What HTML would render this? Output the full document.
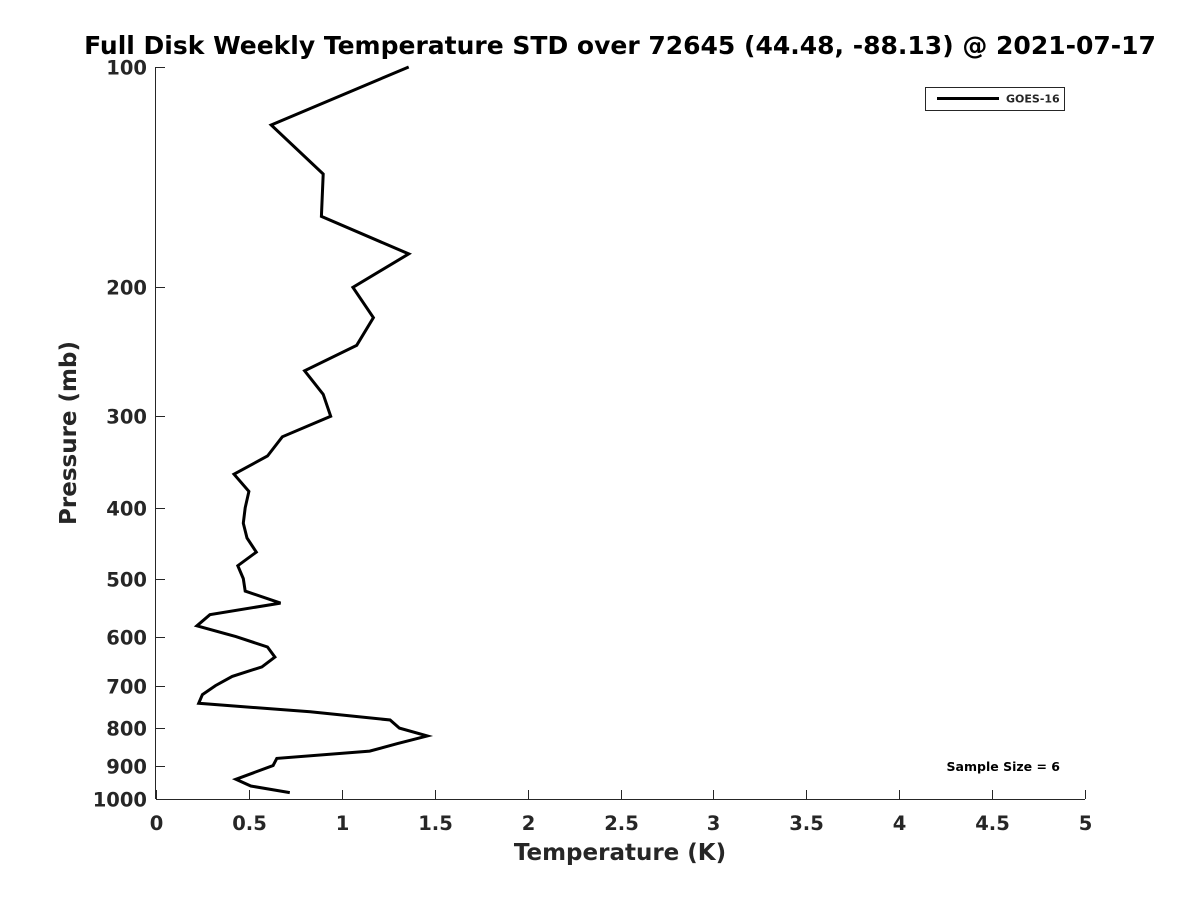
<!DOCTYPE html>
<html><head><meta charset="utf-8"><style>
body{margin:0;background:#fff}
svg text{font-family:"DejaVu Sans","Liberation Sans",sans-serif;font-weight:bold;fill:#262626}
</style></head><body>
<svg id="chart" width="1200" height="900" xmlns="http://www.w3.org/2000/svg">
<rect width="1200" height="900" fill="#fff"/>
<text x="620" y="54" font-size="25" text-anchor="middle" fill="#000" style="fill:#000">Full Disk Weekly Temperature STD over 72645 (44.48, -88.13) @ 2021-07-17</text>
<g id="axes"></g>
<path id="series" fill="none" stroke="#000" stroke-width="3" stroke-linejoin="miter"/>
<g>
<rect x="925.5" y="87.5" width="139" height="23" fill="#fff" stroke="#262626" stroke-width="1"/>
<line x1="937" y1="98.5" x2="999" y2="98.5" stroke="#000" stroke-width="3"/>
<text x="1006" y="102.5" font-size="11">GOES-16</text>
</g>
<text x="1060" y="771" font-size="12.5" text-anchor="end" style="fill:#000">Sample Size = 6</text>
<text x="620" y="860" font-size="23" text-anchor="middle">Temperature (K)</text>
<text x="0" y="0" font-size="23" text-anchor="middle" transform="translate(76,433) rotate(-90)">Pressure (mb)</text>
</svg>
<script>
const pressures=[100,120,140,160,180,200,220,240,260,280,300,320,340,360,380,400,420,440,460,480,500,520,540,560,580,600,620,640,660,680,700,720,740,760,780,800,820,840,860,880,900,940,960,980];
const tempStd=[1.36,0.62,0.90,0.89,1.36,1.06,1.17,1.08,0.80,0.90,0.94,0.68,0.60,0.42,0.50,0.48,0.47,0.49,0.54,0.44,0.47,0.48,0.67,0.29,0.22,0.43,0.60,0.64,0.57,0.41,0.32,0.25,0.23,0.83,1.26,1.31,1.46,1.30,1.15,0.65,0.63,0.43,0.51,0.72];
const xTicks=[0,0.5,1,1.5,2,2.5,3,3.5,4,4.5,5];
const xTickLabels=["0","0.5","1","1.5","2","2.5","3","3.5","4","4.5","5"];
const yTicks=[100,200,300,400,500,600,700,800,900,1000];
const yTickLabels=["100","200","300","400","500","600","700","800","900","1000"];
const X0=156,X1=1085,Y0=67,Y1=799;
const xs=v=>X0+(v-0)/(5-0)*(X1-X0);
const ys=p=>Y0+(Math.log10(p)-2)*(Y1-Y0);
const NS="http://www.w3.org/2000/svg";
const axes=document.getElementById('axes');
function mk(tag,attrs,parent){const e=document.createElementNS(NS,tag);for(const k in attrs)e.setAttribute(k,attrs[k]);parent.appendChild(e);return e;}
const xa=mk('line',{x1:X0,y1:Y1+0.5,x2:X1,y2:Y1+0.5,stroke:'#262626','stroke-width':1},axes);


const ya=mk('line',{x1:X0-0.5,y1:Y0,x2:X0-0.5,y2:Y1,stroke:'#262626','stroke-width':1},axes);


xTicks.forEach((v,i)=>{
  const x=Math.round(xs(v))+0.5;
  mk('line',{x1:x,y1:Y1,x2:x,y2:Y1-9,stroke:'#262626','stroke-width':1},axes);
  const t=mk('text',{x:x,y:Y1+31,'font-size':19.5,'text-anchor':'middle'},axes);
  t.textContent=xTickLabels[i];
  
  
});
yTicks.forEach((v,i)=>{
  const y=Math.round(ys(v))+0.5;
  mk('line',{x1:X0,y1:y,x2:X0+9,y2:y,stroke:'#262626','stroke-width':1},axes);
  const t=mk('text',{x:X0-9,y:y+7,'font-size':19.5,'text-anchor':'end'},axes);
  t.textContent=yTickLabels[i];
  
  
});
document.getElementById('series').setAttribute('d',pressures.map((p,i)=>(i?'L':'M')+xs(tempStd[i]).toFixed(1)+' '+ys(p).toFixed(1)).join(' '));
</script>
</body></html>
